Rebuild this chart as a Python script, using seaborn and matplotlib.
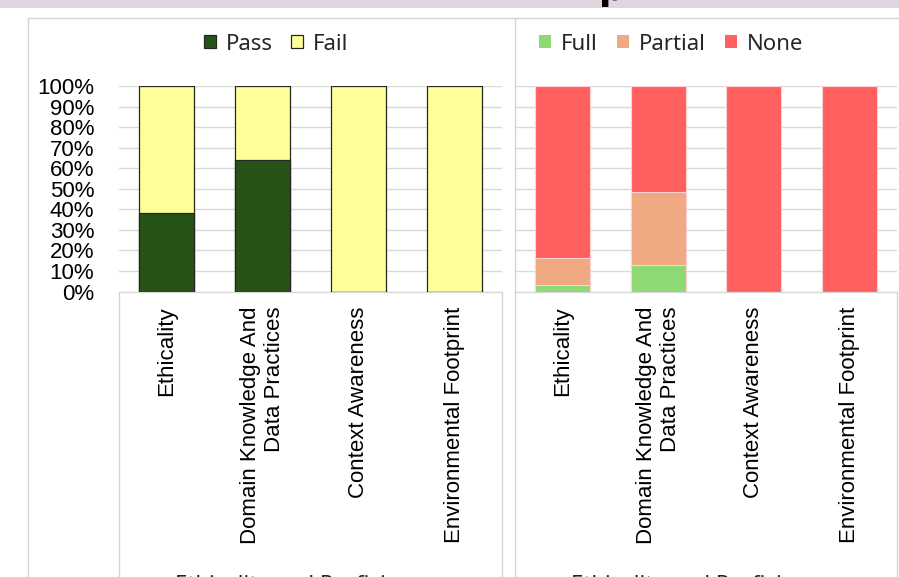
import matplotlib
matplotlib.use("Agg")
import matplotlib.pyplot as plt
from matplotlib.lines import Line2D
from matplotlib.patches import Rectangle, Patch
import numpy as np
import pandas as pd
import seaborn as sns

# ---- data -------------------------------------------------------------
categories = ["Ethicality", "Domain Knowledge And\nData Practices",
              "Context Awareness", "Environmental Footprint"]
pass_pct = [38, 64, 0, 0]
fail_pct = [62, 36, 100, 100]
full_pct = [3, 13, 0, 0]
partial_pct = [13.5, 35.5, 0, 0]
none_pct = [83.5, 51.5, 100, 100]
y_ticks = [0, 10, 20, 30, 40, 50, 60, 70, 80, 90, 100]
y_tick_labels = [f"{v}%" for v in y_ticks]
axis_title = "Ethicality and Proficiency"

# ---- style ------------------------------------------------------------
sns.set_theme(style="white")
plt.rcParams["font.family"] = ["Liberation Sans", "DejaVu Sans"]

W, H = 899, 577
fig = plt.figure(figsize=(W / 100, H / 100), dpi=100)
fig.patch.set_facecolor("white")


def fx(x):
    return x / W


def fy(y):
    return 1 - y / H


GRID = "#d9d9d9"
BORDER = "#d4d4d4"
LABEL_FONT = 16
LEGEND_FONT = ["Noto Sans", "DejaVu Sans"]

# window band along the top edge and the chart frames
fig.add_artist(Rectangle((0, fy(8)), 1, 8 / H, transform=fig.transFigure,
                         facecolor="#e0d6df", edgecolor="none", zorder=0))
fig.text(fx(599), 1.0, "p", fontsize=26, fontweight="bold", color="black",
         ha="left", va="baseline", family=["DejaVu Sans"])


def fig_line(xs, ys, color=BORDER, lw=1.0):
    fig.add_artist(Line2D([fx(v) for v in xs], [fy(v) for v in ys],
                          color=color, lw=lw, transform=fig.transFigure))


fig_line([28, 899], [18, 18])
fig_line([28, 28], [18, 577])
fig_line([515, 515], [18, 577])

# ---- axes ------------------------------------------------------------
top_px, zero_px = 86, 291.5
ax_h = (zero_px - top_px) / H
ax_left = fig.add_axes([fx(118.5), fy(zero_px), (502 - 118.5) / W, ax_h])
ax_right = fig.add_axes([fx(515), fy(zero_px), (897 - 515) / W, ax_h])


def stacked(ax, layers, colors, edge, lw):
    """Draw stacked bars by overlaying cumulative totals, tallest first."""
    cum = np.cumsum(np.array(layers, dtype=float), axis=0)
    for level, col in zip(cum[::-1], colors[::-1]):
        df = pd.DataFrame({"category": categories, "value": level})
        sns.barplot(data=df, x="category", y="value", order=categories,
                    color=col, saturation=1, width=0.573, errorbar=None,
                    edgecolor=edge, linewidth=lw, ax=ax, zorder=3)


stacked(ax_left, [pass_pct, fail_pct], ["#275317", "#FFFF99"],
        "#262626", 0.9)
stacked(ax_right, [full_pct, partial_pct, none_pct],
        ["#8ED973", "#F1A983", "#FF5F5F"], (1, 0.82, 0.82, 1), 0.8)

for ax in (ax_left, ax_right):
    ax.set_ylim(0, 100)
    ax.set_xlim(-0.5, 3.5)
    ax.set_xlabel("")
    ax.set_ylabel("")
    ax.set_yticks(y_ticks)
    ax.set_axisbelow(True)
    ax.yaxis.grid(True, color=GRID, lw=1.0)
    ax.xaxis.grid(False)
    for side in ("top", "right", "left"):
        ax.spines[side].set_visible(False)
    ax.spines["bottom"].set_color(GRID)
    ax.spines["bottom"].set_linewidth(1.0)
    ax.set_xticks(range(len(categories)))
    ax.set_xticklabels(categories, rotation=90, ha="center", va="top",
                       multialignment="right", fontsize=LABEL_FONT,
                       color="black")
    ax.tick_params(axis="x", length=0, pad=11)
    ax.set_facecolor("none")

ax_left.set_yticklabels(y_tick_labels, fontsize=LABEL_FONT, color="black")
ax_left.tick_params(axis="y", length=0, pad=17.5)
ax_right.set_yticklabels([])
ax_right.tick_params(axis="y", length=0)

# category boxes under each plot area
fig_line([118.5, 118.5], [zero_px, 577])
fig_line([502, 502], [zero_px, 577])
fig_line([897, 897], [zero_px, 577])

# ---- legends ----------------------------------------------------------
leg_kw = dict(loc="center", frameon=False, handlelength=0.55,
              handleheight=0.55, handletextpad=0.45,
              prop={"family": LEGEND_FONT, "size": LABEL_FONT},
              bbox_transform=fig.transFigure, borderpad=0)
h_left = [Patch(facecolor="#275317", edgecolor="#262626", lw=0.9),
          Patch(facecolor="#FFFF99", edgecolor="#262626", lw=0.9)]
ax_left.legend(h_left, ["Pass", "Fail"], ncol=2, columnspacing=0.8,
               bbox_to_anchor=(fx(276), fy(44)), **leg_kw)
h_right = [Patch(facecolor="#8ED973", edgecolor="none"),
           Patch(facecolor="#F1A983", edgecolor="none"),
           Patch(facecolor="#FF5F5F", edgecolor="none")]
ax_right.legend(h_right, ["Full", "Partial", "None"], ncol=3,
                columnspacing=0.85, bbox_to_anchor=(fx(671), fy(44)),
                **leg_kw)

# axis titles sitting at the lower edge
fig.text(fx(304), fy(574.5), axis_title, fontsize=LABEL_FONT, ha="center",
         va="top", family=LEGEND_FONT)
fig.text(fx(700), fy(574.5), axis_title, fontsize=LABEL_FONT, ha="center",
         va="top", family=LEGEND_FONT)

fig.savefig("out.png", dpi=100, facecolor="white")
